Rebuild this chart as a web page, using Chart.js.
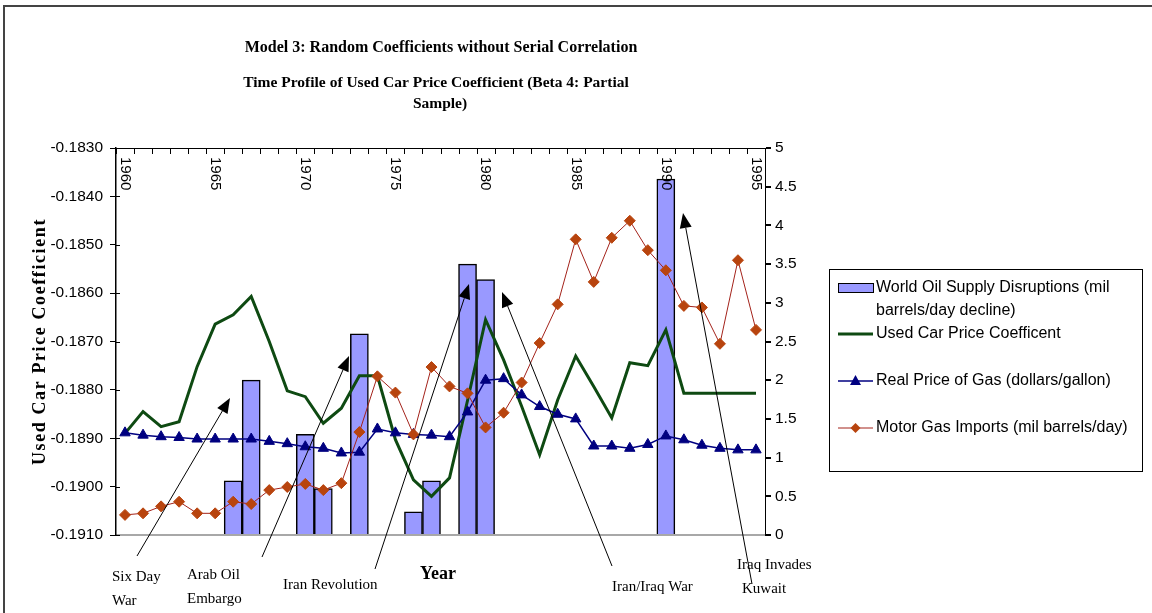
<!DOCTYPE html>
<html>
<head>
<meta charset="utf-8">
<script src="https://cdn.jsdelivr.net/npm/chart.js@4.4.1/dist/chart.umd.min.js"></script>
<style>
  body { margin: 0; background: #fff; }
  #wrap { position: relative; width: 1152px; height: 613px; }
</style>
</head>
<body>
<div id="wrap"><canvas id="chart" width="1152" height="613"></canvas></div>
<script>
// categories (one per year)
const years = ['1960','1961','1962','1963','1964','1965','1966','1967','1968','1969',
               '1970','1971','1972','1973','1974','1975','1976','1977','1978','1979',
               '1980','1981','1982','1983','1984','1985','1986','1987','1988','1989',
               '1990','1991','1992','1993','1994','1995'];
// years printed along the top axis
const yearLabels = ['1960','1965','1970','1975','1980','1985','1990','1995'];

// World Oil Supply Disruptions (mil barrels/day decline) - right axis
const oilDisruptions = [null,null,null,null,null,null,0.7,2.0,null,null,
                        1.3,0.6,null,2.6,null,null,0.3,0.7,null,3.5,
                        3.3,null,null,null,null,null,null,null,null,null,
                        4.6,null,null,null,null,null];
// Used Car Price Coefficent - left axis
const usedCarCoef = [-0.18890,-0.18845,-0.18876,-0.18866,-0.18752,-0.18664,-0.18645,-0.18607,-0.18700,-0.18802,
                     -0.18814,-0.18869,-0.18838,-0.18771,-0.18771,-0.18903,-0.18986,-0.19020,-0.18982,-0.18822,
                     -0.18655,-0.18738,-0.18834,-0.18934,-0.18821,-0.18730,-0.18793,-0.18858,-0.18744,-0.18750,
                     -0.18676,-0.18807,-0.18807,-0.18807,-0.18807,-0.18807];
// Real Price of Gas (dollars/gallon) - right axis
const gasPrice = [1.32,1.29,1.27,1.26,1.24,1.24,1.24,1.24,1.21,1.18,
                  1.14,1.12,1.06,1.07,1.37,1.32,1.30,1.29,1.27,1.59,
                  2.00,2.02,1.81,1.66,1.56,1.50,1.15,1.15,1.12,1.17,
                  1.28,1.23,1.16,1.12,1.10,1.10];
// Motor Gas Imports (mil barrels/day) - right axis
const gasImports = [0.26,0.28,0.37,0.43,0.28,0.28,0.43,0.40,0.58,0.62,
                    0.66,0.58,0.67,1.33,2.05,1.84,1.30,2.17,1.92,1.83,
                    1.39,1.58,1.97,2.48,2.98,3.82,3.27,3.84,4.06,3.68,
                    3.42,2.96,2.94,2.47,3.55,2.65];

// event call-outs: label lines, arrow tail -> tip (canvas px)
const events = [
  { lines: ['Six Day', 'War'],          tx: [112, 112], ty: 577, from: [137, 556], to: [230, 398] },
  { lines: ['Arab Oil', 'Embargo'],     tx: [187, 187], ty: 575, from: [262, 557], to: [349, 356] },
  { lines: ['Iran Revolution'],         tx: [283],      ty: 585, from: [375, 569], to: [469, 284] },
  { lines: ['Iran/Iraq War'],           tx: [612],      ty: 587, from: [612, 566], to: [502, 292] },
  { lines: ['Iraq Invades', 'Kuwait'],  tx: [737, 742], ty: 565, from: [752, 584], to: [683, 213] }
];

const SERIF = '"Liberation Serif", "Times New Roman", serif';
const SANS = '"Liberation Sans", Arial, sans-serif';

function seg(ctx, x1, y1, x2, y2) {
  ctx.beginPath(); ctx.moveTo(x1, y1); ctx.lineTo(x2, y2); ctx.stroke();
}

function arrow(ctx, from, to) {
  const ang = Math.atan2(to[1] - from[1], to[0] - from[0]);
  const len = 15, half = 6;
  const bx = to[0] - len * Math.cos(ang), by = to[1] - len * Math.sin(ang);
  ctx.strokeStyle = '#000'; ctx.lineWidth = 1;
  seg(ctx, from[0], from[1], bx, by);
  ctx.fillStyle = '#000';
  ctx.beginPath();
  ctx.moveTo(to[0], to[1]);
  ctx.lineTo(bx + half * Math.sin(ang), by - half * Math.cos(ang));
  ctx.lineTo(bx - half * Math.sin(ang), by + half * Math.cos(ang));
  ctx.closePath(); ctx.fill();
}

const decor = {
  id: 'decor',
  afterDatasetsDraw(chart) {
    const { ctx, chartArea: a, scales: { x, y } } = chart;
    ctx.save();
    ctx.strokeStyle = '#000'; ctx.lineWidth = 1;
    // inward tick marks on the top category axis
    for (let i = 0; i <= years.length; i++) {
      const px = Math.round(x.getPixelForValue(i - 0.5)) + 0.5;
      seg(ctx, px, a.top, px, a.top + 6);
    }
    // inward half of the left axis ticks
    y.ticks.forEach((t, i) => {
      const py = Math.round(y.getPixelForTick(i)) + 0.5;
      seg(ctx, a.left, py, a.left + 4, py);
    });
    // year labels, rotated, inside the plot
    ctx.font = '15px ' + SANS;
    ctx.fillStyle = '#000';
    ctx.textAlign = 'left'; ctx.textBaseline = 'middle';
    yearLabels.forEach(lbl => {
      const px = x.getPixelForValue(years.indexOf(lbl));
      ctx.save();
      ctx.translate(px, a.top + 9);
      ctx.rotate(Math.PI / 2);
      ctx.fillText(lbl, 0, 0);
      ctx.restore();
    });
    // arrows
    events.forEach(e => arrow(ctx, e.from, e.to));
    ctx.restore();
  },
  afterDraw(chart) {
    const { ctx, chartArea: a } = chart;
    const ds = chart.data.datasets;
    ctx.save();
    ctx.fillStyle = '#000';

    // titles
    ctx.textAlign = 'center'; ctx.textBaseline = 'alphabetic';
    ctx.font = 'bold 16px ' + SERIF;
    ctx.fillText('Model 3: Random Coefficients without Serial Correlation', 441, 52);
    ctx.font = 'bold 15.5px ' + SERIF;
    ctx.fillText('Time Profile of Used Car Price Coefficient (Beta 4: Partial', 436, 87);
    ctx.fillText('Sample)', 440, 108);

    // left axis title
    ctx.save();
    ctx.translate(40, (a.top + a.bottom) / 2);
    ctx.rotate(-Math.PI / 2);
    ctx.font = 'bold 18px ' + SERIF;
    ctx.letterSpacing = '1.6px';
    ctx.textBaseline = 'middle';
    ctx.fillText('Used Car Price Coefficient', 0, 0);
    ctx.restore();

    // x axis title
    ctx.font = 'bold 18px ' + SERIF;
    ctx.textBaseline = 'middle';
    ctx.fillText('Year', 438, 574);

    // event labels
    ctx.font = '15px ' + SERIF;
    ctx.textAlign = 'left';
    events.forEach(e => {
      e.lines.forEach((ln, i) => ctx.fillText(ln, e.tx[i], e.ty + i * 24));
    });

    // legend
    const L = { x: 829, y: 269, w: 313, h: 202 };
    ctx.strokeStyle = '#000'; ctx.lineWidth = 1;
    ctx.strokeRect(L.x + 0.5, L.y + 0.5, L.w, L.h);
    ctx.font = '16px ' + SANS;
    ctx.textAlign = 'left'; ctx.textBaseline = 'middle';
    const sx0 = 838, sx1 = 873, tx = 876;
    // bar swatch
    ctx.fillStyle = ds[0].backgroundColor;
    ctx.fillRect(sx0, 283, sx1 - sx0, 9);
    ctx.strokeRect(sx0 + 0.5, 283.5, sx1 - sx0, 9);
    ctx.fillStyle = '#000';
    ctx.fillText('World Oil Supply Disruptions (mil', tx, 288);
    ctx.fillText('barrels/day decline)', tx, 311);
    // line swatches
    const rows = [[1, 334], [2, 381], [3, 428]];
    rows.forEach(([k, ry]) => {
      const d = ds[k];
      ctx.strokeStyle = d.borderColor; ctx.lineWidth = d.borderWidth;
      seg(ctx, sx0, ry, sx1, ry);
      const mx = (sx0 + sx1) / 2;
      ctx.fillStyle = d.pointBackgroundColor || d.borderColor;
      if (d.pointStyle === 'triangle') {
        ctx.beginPath(); ctx.moveTo(mx, ry - 6); ctx.lineTo(mx + 5.5, ry + 4); ctx.lineTo(mx - 5.5, ry + 4); ctx.closePath(); ctx.fill();
      } else if (d.pointStyle === 'rectRot') {
        ctx.beginPath(); ctx.moveTo(mx, ry - 5); ctx.lineTo(mx + 5, ry); ctx.lineTo(mx, ry + 5); ctx.lineTo(mx - 5, ry); ctx.closePath(); ctx.fill();
      }
      ctx.fillStyle = '#000';
      ctx.fillText(d.label, tx, ry);
    });

    // outer frame
    ctx.strokeStyle = '#444'; ctx.lineWidth = 2;
    ctx.beginPath(); ctx.moveTo(4, 613); ctx.lineTo(4, 6); ctx.lineTo(1152, 6); ctx.stroke();
    ctx.restore();
  }
};

const tickFont = { family: SANS, size: 15.5 };

new Chart(document.getElementById('chart'), {
  type: 'bar',
  data: {
    labels: years,
    datasets: [
      {
        type: 'bar', label: 'World Oil Supply Disruptions (mil barrels/day decline)',
        data: oilDisruptions, yAxisID: 'y2', order: 4,
        backgroundColor: '#9999FF', borderColor: '#000', borderWidth: 1.5,
        barPercentage: 1, categoryPercentage: 1
      },
      {
        type: 'line', label: 'Used Car Price Coefficent',
        data: usedCarCoef, yAxisID: 'y', order: 3,
        borderColor: '#0E4A12', borderWidth: 3, pointRadius: 0, tension: 0
      },
      {
        type: 'line', label: 'Real Price of Gas (dollars/gallon)',
        data: gasPrice, yAxisID: 'y2', order: 2,
        borderColor: '#000080', borderWidth: 1.5, tension: 0,
        pointStyle: 'triangle', pointRadius: 6, pointBackgroundColor: '#000080', pointBorderColor: '#000080', pointBorderWidth: 1
      },
      {
        type: 'line', label: 'Motor Gas Imports (mil barrels/day)',
        data: gasImports, yAxisID: 'y2', order: 1,
        borderColor: '#A3221A', borderWidth: 1, tension: 0,
        pointStyle: 'rectRot', pointRadius: 5.5, pointBackgroundColor: '#B8440E', pointBorderColor: '#B8440E', pointBorderWidth: 1
      }
    ]
  },
  options: {
    responsive: false,
    animation: false,
    devicePixelRatio: 1,
    layout: { padding: { top: 148, bottom: 78, left: 0, right: 0 } },
    plugins: { legend: { display: false }, title: { display: false }, tooltip: { enabled: false } },
    scales: {
      x: {
        type: 'category', position: 'top', offset: true,
        grid: { offset: true, drawOnChartArea: false, drawTicks: false },
        border: { display: true, color: '#000', width: 1 },
        ticks: { display: false },
        afterFit: s => { s.height = 0; }
      },
      y: {
        position: 'left', min: -0.191, max: -0.183,
        ticks: { stepSize: 0.001, color: '#000', font: tickFont, padding: 7, callback: v => v.toFixed(4) },
        grid: { drawOnChartArea: false, color: '#000', tickLength: 6 },
        border: { display: true, color: '#000', width: 1.5 },
        afterFit: s => { s.width = 116; }
      },
      y2: {
        position: 'right', min: 0, max: 5,
        ticks: { stepSize: 0.5, color: '#000', font: tickFont, padding: 4, callback: v => String(v) },
        grid: {
          drawOnChartArea: true, tickLength: 6, tickColor: '#000', lineWidth: 2,
          color: c => (c.tick && c.tick.value === 0 ? '#A8A8A8' : 'rgba(0,0,0,0)')
        },
        border: { display: true, color: '#000', width: 1 },
        afterFit: s => { s.width = 387; }
      }
    }
  },
  plugins: [decor]
});
</script>
</body>
</html>
